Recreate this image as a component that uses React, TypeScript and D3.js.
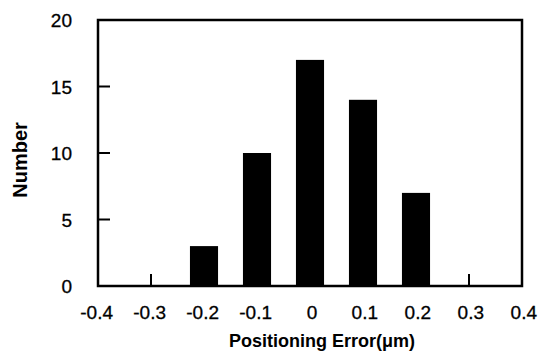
import React, { useEffect, useRef } from "react";
import * as d3 from "d3";

// histogram bins (centre of bin) and counts
const binCenters = [-0.2, -0.1, 0, 0.1, 0.2];
const counts = [3, 10, 17, 14, 7];

const xTicks = [-0.4, -0.3, -0.2, -0.1, 0, 0.1, 0.2, 0.3, 0.4];
const yTicks = [0, 5, 10, 15, 20];

const W = 552;
const H = 361;

const App = () => {
  const ref = useRef<SVGSVGElement>(null);

  useEffect(() => {
    const svg = d3.select(ref.current);
    svg.selectAll("*").remove();

    const margin = { top: 20, right: 30, bottom: 75, left: 98 };
    const width = W - margin.left - margin.right;
    const height = H - margin.top - margin.bottom;

    const x = d3.scaleLinear().domain([-0.4, 0.4]).range([0, width]);
    const y = d3.scaleLinear().domain([0, 20]).range([height, 0]);

    const g = svg.append("g").attr("transform", `translate(${margin.left},${margin.top})`);

    const font = "'Liberation Sans', Arial, sans-serif";
    const barW = (x(0.1) - x(0)) * 0.53;

    // bars
    g.selectAll(".bar")
      .data(binCenters)
      .enter()
      .append("rect")
      .attr("x", (d) => x(d) - barW / 2)
      .attr("width", barW)
      .attr("y", (d, i) => y(counts[i]))
      .attr("height", (d, i) => height - y(counts[i]))
      .attr("fill", "#000");

    // ticks (inward)
    g.selectAll(".xt")
      .data(xTicks.slice(1, -1))
      .enter()
      .append("line")
      .attr("x1", (d) => x(d))
      .attr("x2", (d) => x(d))
      .attr("y1", height)
      .attr("y2", height - 12)
      .attr("stroke", "#000")
      .attr("stroke-width", 2);

    g.selectAll(".yt")
      .data(yTicks.slice(1, -1))
      .enter()
      .append("line")
      .attr("x1", 0)
      .attr("x2", 12)
      .attr("y1", (d) => y(d))
      .attr("y2", (d) => y(d))
      .attr("stroke", "#000")
      .attr("stroke-width", 2);

    // frame
    g.append("rect")
      .attr("x", 0)
      .attr("y", 0)
      .attr("width", width)
      .attr("height", height)
      .attr("fill", "none")
      .attr("stroke", "#000")
      .attr("stroke-width", 2.5);

    // x tick labels: number part centred on tick, minus hangs left
    g.selectAll(".xl")
      .data(xTicks)
      .enter()
      .append("text")
      .attr("x", (d) => (d === 0 ? x(d) + 2 : x(d) + 15))
      .attr("y", height + 33)
      .attr("text-anchor", (d) => (d === 0 ? "middle" : "end"))
      .attr("font-family", font)
      .attr("font-size", 19)
      .attr("stroke", "#000")
      .attr("stroke-width", 0.3)
      .text((d) => (d === 0 ? "0" : d3.format(".1f")(d).replace("−", "-")));

    // y tick labels
    g.selectAll(".yl")
      .data(yTicks)
      .enter()
      .append("text")
      .attr("x", -26)
      .attr("y", (d) => y(d) + 7)
      .attr("text-anchor", "end")
      .attr("font-family", font)
      .attr("font-size", 19)
      .attr("stroke", "#000")
      .attr("stroke-width", 0.3)
      .text((d) => d);

    // axis titles
    g.append("text")
      .attr("transform", `translate(${-71},${140}) rotate(-90)`)
      .attr("text-anchor", "middle")
      .attr("font-family", font)
      .attr("font-size", 20)
      .attr("font-weight", "bold")
      .text("Number");

    g.append("text")
      .attr("x", 322 - margin.left)
      .attr("y", height + 61)
      .attr("text-anchor", "middle")
      .attr("font-family", font)
      .attr("font-size", 18)
      .attr("font-weight", "bold")
      .text("Positioning Error(μm)");
  }, []);

  return (
    <svg
      ref={ref}
      width={W}
      height={H}
      style={{ position: "absolute", left: 0, top: 0, background: "#fff" }}
    />
  );
};

export default App;
